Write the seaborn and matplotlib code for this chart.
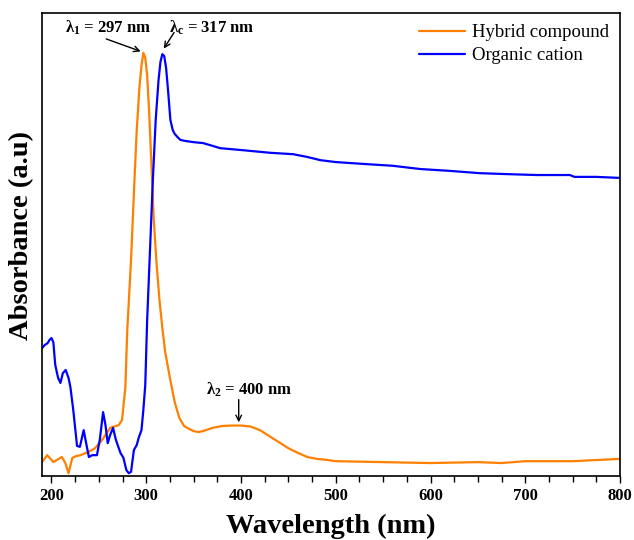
import numpy as np
import pandas as pd
import matplotlib
matplotlib.use('Agg')
import matplotlib.pyplot as plt
from matplotlib.ticker import MultipleLocator
import seaborn as sns

# Espectro del compuesto híbrido
wl_hybrid = [190, 195.5, 202, 206, 211, 214.7, 218, 222, 226, 230.6, 239, 246, 253.5, 262,
             271, 274.5, 278, 280, 284, 287.6, 290, 293, 295, 297, 299, 301, 303, 306, 308,
             311, 314, 317, 320, 325, 330, 335, 340, 345, 350, 355, 360, 370, 380, 390, 400,
             410, 420, 430, 440, 450, 460, 470, 480, 490, 500, 550, 600, 650, 675, 700, 750, 800]
abs_hybrid = [0.030, 0.045, 0.030, 0.035, 0.041, 0.028, 0.006, 0.039, 0.043, 0.045, 0.052,
              0.060, 0.078, 0.104, 0.110, 0.121, 0.192, 0.315, 0.467, 0.639, 0.747, 0.844,
              0.886, 0.914, 0.903, 0.866, 0.790, 0.650, 0.553, 0.456, 0.380, 0.320, 0.268,
              0.212, 0.160, 0.125, 0.108, 0.102, 0.097, 0.095, 0.097, 0.104, 0.108, 0.109,
              0.109, 0.107, 0.099, 0.086, 0.073, 0.060, 0.050, 0.041, 0.037, 0.035, 0.032,
              0.030, 0.028, 0.030, 0.028, 0.032, 0.032, 0.037]

# Espectro del catión orgánico
wl_organic = [190, 193, 196, 198, 200, 202, 204, 207, 209.5, 212, 215, 218, 220, 223, 227,
              230, 234, 237, 239.5, 243, 248, 251, 254.5, 257, 259.4, 262, 265, 268, 272.8,
              276, 279, 281.6, 284, 287, 290, 292, 295, 297, 299, 301, 304, 307, 310, 313,
              315, 317, 319, 321, 323, 325.5, 328, 330, 333, 336, 340, 350, 360, 370, 378,
              400, 431, 455, 470, 484, 500, 529, 560, 589, 620, 652, 680, 712, 747, 752,
              775, 797, 800]
abs_organic = [0.276, 0.283, 0.287, 0.294, 0.298, 0.289, 0.240, 0.212, 0.201, 0.222, 0.229,
               0.212, 0.192, 0.143, 0.065, 0.063, 0.099, 0.067, 0.041, 0.045, 0.045, 0.078,
               0.138, 0.110, 0.071, 0.089, 0.104, 0.078, 0.050, 0.039, 0.013, 0.006, 0.009,
               0.056, 0.067, 0.082, 0.099, 0.143, 0.197, 0.337, 0.488, 0.639, 0.769, 0.855,
               0.894, 0.911, 0.907, 0.881, 0.834, 0.769, 0.747, 0.739, 0.732, 0.726, 0.724,
               0.721, 0.719, 0.713, 0.708, 0.704, 0.698, 0.695, 0.689, 0.682, 0.678, 0.674,
               0.670, 0.663, 0.659, 0.654, 0.652, 0.650, 0.650, 0.646, 0.646, 0.644, 0.644]

labels = ['Hybrid compound', 'Organic cation']
colors = ['#FF7F00', '#0000FF']

sns.set_style('ticks')
plt.rcParams['font.family'] = ['Liberation Serif', 'DejaVu Serif']
plt.rcParams['text.color'] = 'black'
plt.rcParams['axes.labelcolor'] = 'black'
plt.rcParams['xtick.color'] = 'black'
plt.rcParams['mathtext.fontset'] = 'custom'
plt.rcParams['mathtext.rm'] = 'Liberation Serif:bold'
plt.rcParams['mathtext.bf'] = 'Liberation Serif:bold'
plt.rcParams['mathtext.it'] = 'Liberation Serif:bold'

df_h = pd.DataFrame({'wl': wl_hybrid, 'A': abs_hybrid})
df_o = pd.DataFrame({'wl': wl_organic, 'A': abs_organic})

fig = plt.figure(figsize=(6.34, 5.4), dpi=100)
ax = fig.add_axes([0.0662, 0.1185, 0.9118, 0.8575])

sns.lineplot(data=df_h, x='wl', y='A', color=colors[0], lw=1.6, label=labels[0], ax=ax)
sns.lineplot(data=df_o, x='wl', y='A', color=colors[1], lw=1.6, label=labels[1], ax=ax)

ax.set_xlim(190, 800)
ax.set_ylim(0, 1)
ax.xaxis.set_major_locator(MultipleLocator(100))
ax.xaxis.set_minor_locator(MultipleLocator(25))
ax.set_yticks([])
ax.tick_params(axis='x', which='major', length=5, width=1, direction='out', labelsize=12)
ax.tick_params(axis='x', which='minor', length=4, width=1, direction='out')
for t in ax.get_xticklabels():
    t.set_fontweight('bold')
for s in ax.spines.values():
    s.set_visible(True)
    s.set_linewidth(1.2)
    s.set_color('black')

ax.set_xlabel('Wavelength (nm)', fontsize=20.5, fontweight='bold', labelpad=7)
ax.set_ylabel('Absorbance (a.u)', fontsize=20.5, fontweight='bold')
ax.yaxis.set_label_coords(-0.013, 0.52)

# Anotaciones de los picos
ax.text(259.6, 0.968, 'λ$_1$ = 297 nm', fontsize=12, fontweight='bold', ha='center', va='center')
ax.annotate('', xy=(297, 0.915), xytext=(255, 0.946),
            arrowprops=dict(arrowstyle='->', lw=1, color='black'))
ax.text(369.3, 0.967, 'λ$_c$ = 317 nm', fontsize=12, fontweight='bold', ha='center', va='center')
ax.annotate('', xy=(317, 0.918), xytext=(331, 0.963),
            arrowprops=dict(arrowstyle='->', lw=1, color='black'))
ax.text(408.3, 0.186, 'λ$_2$ = 400 nm', fontsize=12, fontweight='bold', ha='center', va='center')
ax.annotate('', xy=(397.6, 0.110), xytext=(397.6, 0.171),
            arrowprops=dict(arrowstyle='->', lw=1, color='black'))

ax.legend(loc='upper right', bbox_to_anchor=(1.0, 1.0), frameon=False, fontsize=13.5,
          handlelength=2.45, handletextpad=0.35, labelspacing=0.3, borderaxespad=0.2)

fig.savefig('out.png', dpi=100)
